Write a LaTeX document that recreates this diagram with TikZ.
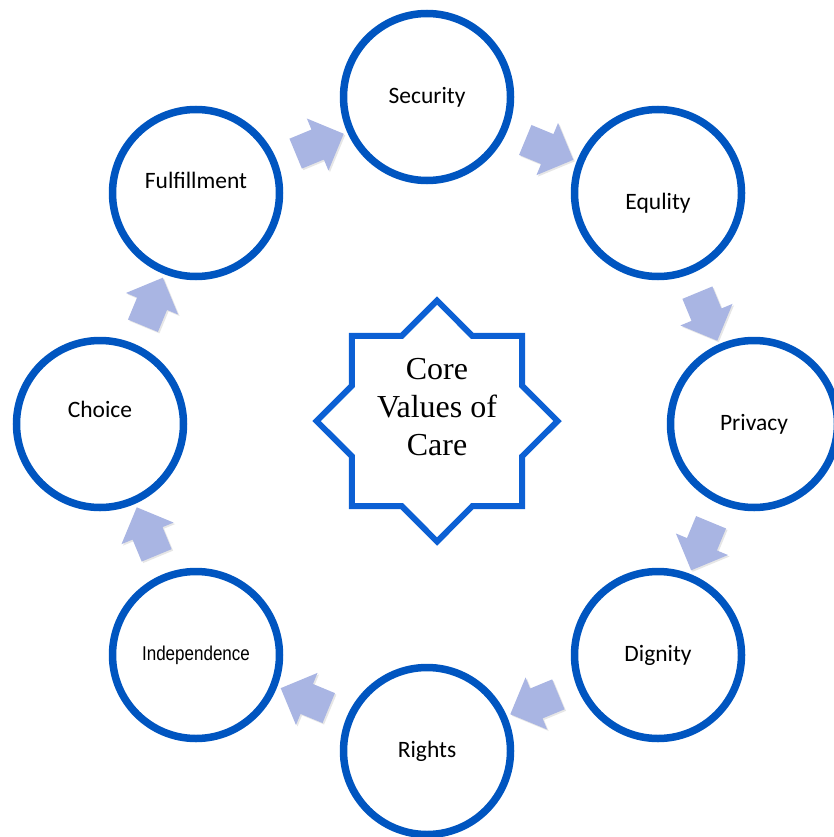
\documentclass[tikz,border=0pt]{standalone}
\usepackage{fontspec}
\setmainfont{Carlito}
\newfontfamily\indfont[FakeStretch=0.85]{Liberation Sans}
\newfontfamily\corefont{Liberation Serif}
\usetikzlibrary{shapes.geometric,shapes.arrows,shadows}
\definecolor{ringblue}{RGB}{0,85,192}
\definecolor{starblue}{RGB}{12,96,212}
\definecolor{arrowfill}{RGB}{169,181,227}

\begin{document}
\begin{tikzpicture}[x=1pt, y=-1pt,
  valuecircle/.style={draw=ringblue, circle, line width=7.5pt, fill=white, minimum size=167pt, inner sep=0pt},
  valuetext/.style={font=\fontsize{23.5}{28}\selectfont},
  flowarrow/.style={single arrow, fill=arrowfill, inner xsep=0pt, inner ysep=16pt, single arrow head extend=12pt, minimum height=52pt, drop shadow={shadow xshift=1.5pt, shadow yshift=-1.5pt, opacity=0.2}},
  corestar/.style={star, star points=8, star point ratio=1.307, draw=starblue, line width=6pt, fill=white, minimum size=241pt, inner sep=0pt}]
\useasboundingbox (0,0) rectangle (833,837);
\node[corestar, label={[font=\corefont\fontsize{32}{38}\selectfont, align=center, yshift=14pt]center:{Core\\Values of\\Care}}] (CV0) at (437,421) {};
\node[valuecircle, label={[valuetext]center:Security}] (CV1) at (427,97) {};
\node[valuecircle, label={[valuetext, yshift=-10pt]center:Equlity}] (CV2) at (658,193) {};
\node[valuecircle, label={[valuetext]center:Privacy}] (CV3) at (754,424) {};
\node[valuecircle, label={[valuetext]center:Dignity}] (CV4) at (658,655) {};
\node[valuecircle, label={[valuetext]center:Rights}] (CV5) at (427,751) {};
\node[valuecircle, label={[font=\indfont\fontsize{20}{24}\selectfont]center:Independence}] (CV6) at (196,655) {};
\node[valuecircle, label={[valuetext, yshift=15pt]center:Choice}] (CV7) at (100,424) {};
\node[valuecircle, label={[valuetext, yshift=13pt]center:Fulfillment}] (CV8) at (196,193) {};
\node[flowarrow, rotate=22.5] (CA8) at (312.2,146.8) {};
\node[flowarrow, rotate=-22.5] (CA1) at (541.8,146.8) {};
\node[flowarrow, rotate=-67.5] (CA2) at (704.2,309.2) {};
\node[flowarrow, rotate=-112.5] (CA3) at (704.2,538.8) {};
\node[flowarrow, rotate=-157.5] (CA4) at (541.8,701.2) {};
\node[flowarrow, rotate=157.5] (CA5) at (312.2,701.2) {};
\node[flowarrow, rotate=112.5] (CA6) at (149.8,538.8) {};
\node[flowarrow, rotate=67.5] (CA7) at (149.8,309.2) {};
\end{tikzpicture}
\end{document}
